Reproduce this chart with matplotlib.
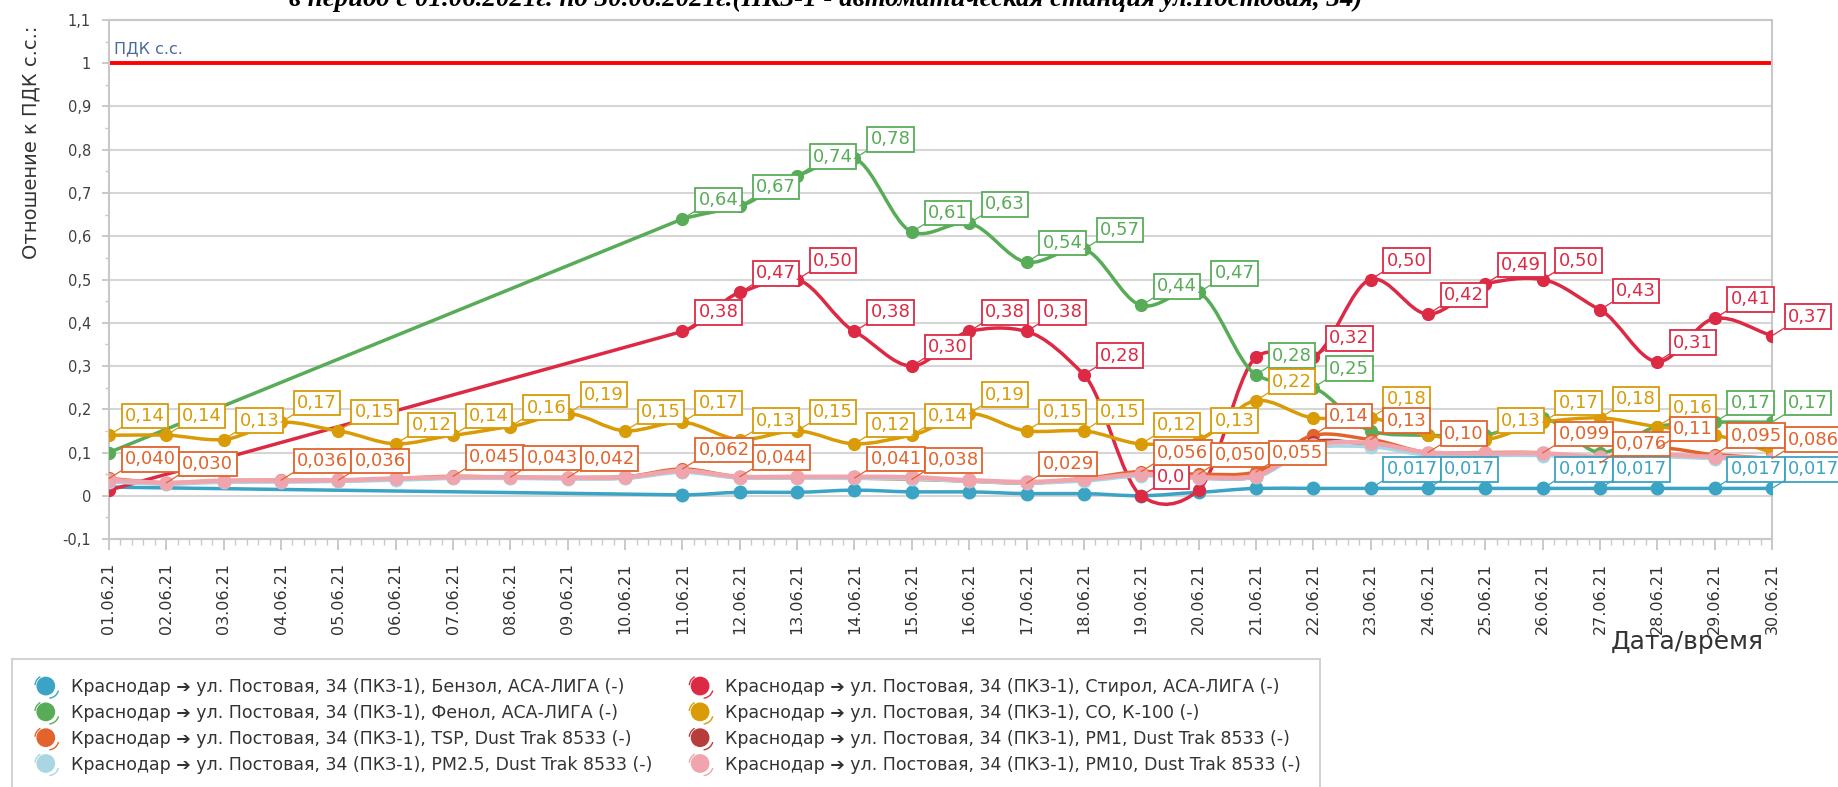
import numpy as np
import matplotlib
matplotlib.use("Agg")
import matplotlib.pyplot as plt
from matplotlib.path import Path
from matplotlib.patches import PathPatch, Circle, Arc
from matplotlib.lines import Line2D
from matplotlib.legend_handler import HandlerBase
from matplotlib.ticker import FixedLocator, FixedFormatter, AutoMinorLocator

nan = np.nan

# days of June 2021
days = list(range(1, 31))
date_labels = [f"{d:02d}.06.21" for d in days]

ytick_values = [-0.1, 0.0, 0.1, 0.2, 0.3, 0.4, 0.5, 0.6, 0.7, 0.8, 0.9, 1.0, 1.1]
ytick_labels = ["-0,1", "0", "0,1", "0,2", "0,3", "0,4", "0,5", "0,6", "0,7", "0,8", "0,9", "1", "1,1"]
pdk_level = 1.0

benzene = [0.020, nan, nan, nan, nan, nan, nan, nan, nan, nan,
           0.002, 0.008, 0.008, 0.013, 0.009, 0.009, 0.005, 0.005, 0.000, 0.008,
           0.017, 0.017, 0.017, 0.017, 0.017, 0.017, 0.017, 0.017, 0.017, 0.017]
styrene = [0.013, nan, nan, nan, nan, nan, nan, nan, nan, nan,
           0.38, 0.47, 0.50, 0.38, 0.30, 0.38, 0.38, 0.28, 0.00, 0.013,
           0.32, 0.32, 0.50, 0.42, 0.49, 0.50, 0.43, 0.31, 0.41, 0.37]
phenol = [0.10, nan, nan, nan, nan, nan, nan, nan, nan, nan,
          0.64, 0.67, 0.74, 0.78, 0.61, 0.63, 0.54, 0.57, 0.44, 0.47,
          0.28, 0.25, 0.15, 0.14, 0.14, 0.18, 0.10, 0.16, 0.17, 0.17]
co = [0.14, 0.14, 0.13, 0.17, 0.15, 0.12, 0.14, 0.16, 0.19, 0.15,
      0.17, 0.13, 0.15, 0.12, 0.14, 0.19, 0.15, 0.15, 0.12, 0.13,
      0.22, 0.18, 0.18, 0.14, 0.13, 0.17, 0.18, 0.16, 0.14, 0.10]
tsp = [0.040, 0.030, 0.035, 0.036, 0.036, 0.040, 0.045, 0.043, 0.042, 0.044,
       0.062, 0.044, 0.044, 0.041, 0.038, 0.034, 0.029, 0.040, 0.056, 0.050,
       0.055, 0.14, 0.13, 0.10, 0.10, 0.099, 0.076, 0.11, 0.095, 0.086]
pm1 = [0.034, 0.028, 0.033, 0.033, 0.034, 0.038, 0.041, 0.041, 0.040, 0.041,
       0.056, 0.042, 0.042, 0.042, 0.041, 0.034, 0.030, 0.036, 0.048, 0.041,
       0.044, 0.125, 0.118, 0.096, 0.095, 0.095, 0.087, 0.092, 0.088, 0.084]
pm25 = [0.032, 0.027, 0.031, 0.032, 0.033, 0.036, 0.040, 0.040, 0.039, 0.040,
        0.054, 0.041, 0.041, 0.040, 0.039, 0.033, 0.029, 0.034, 0.046, 0.040,
        0.043, 0.110, 0.113, 0.094, 0.093, 0.093, 0.085, 0.090, 0.086, 0.082]
pm10 = [0.037, 0.030, 0.035, 0.035, 0.036, 0.040, 0.043, 0.043, 0.042, 0.043,
        0.058, 0.044, 0.044, 0.044, 0.043, 0.036, 0.032, 0.038, 0.050, 0.043,
        0.046, 0.118, 0.122, 0.100, 0.098, 0.098, 0.090, 0.095, 0.090, 0.086]

# visible data labels (None = hidden)
N = None
benzene_lbl = [N] * 22 + ["0,017", "0,017", N, "0,017", "0,017", N, "0,017", "0,017"]
styrene_lbl = [N] * 10 + ["0,38", "0,47", "0,50", "0,38", "0,30", "0,38", "0,38", "0,28", "0,0", N,
                          N, "0,32", "0,50", "0,42", "0,49", "0,50", "0,43", "0,31", "0,41", "0,37"]
phenol_lbl = [N] * 10 + ["0,64", "0,67", "0,74", "0,78", "0,61", "0,63", "0,54", "0,57", "0,44", "0,47",
                         "0,28", "0,25", N, N, N, N, N, N, "0,17", "0,17"]
co_lbl = ["0,14", "0,14", "0,13", "0,17", "0,15", "0,12", "0,14", "0,16", "0,19", "0,15",
          "0,17", "0,13", "0,15", "0,12", "0,14", "0,19", "0,15", "0,15", "0,12", "0,13",
          "0,22", N, "0,18", N, "0,13", "0,17", "0,18", "0,16", N, N]
tsp_lbl = ["0,040", "0,030", N, "0,036", "0,036", N, "0,045", "0,043", "0,042", N,
           "0,062", "0,044", N, "0,041", "0,038", N, "0,029", N, "0,056", "0,050",
           "0,055", "0,14", "0,13", "0,10", N, "0,099", "0,076", "0,11", "0,095", "0,086"]
no_lbl = [N] * 30

prefix = "Краснодар ➔ ул. Постовая, 34 (ПКЗ-1), "
series = [
    # name, values, labels, colour, line width, marker size
    ("Бензол, АСА-ЛИГА (-)", benzene, benzene_lbl, "#3ba3c3", 2.5, 9.0),
    ("Стирол, АСА-ЛИГА (-)", styrene, styrene_lbl, "#dc2a45", 2.5, 8.5),
    ("Фенол, АСА-ЛИГА (-)", phenol, phenol_lbl, "#58ac58", 2.5, 8.5),
    ("CO, К-100 (-)", co, co_lbl, "#d99b06", 2.5, 8.5),
    ("TSP, Dust Trak 8533 (-)", tsp, tsp_lbl, "#e2632c", 2.5, 8.5),
    ("PM1, Dust Trak 8533 (-)", pm1, no_lbl, "#b83c3c", 2.5, 8.5),
    ("PM2.5, Dust Trak 8533 (-)", pm25, no_lbl, "#a9d6e3", 2.5, 9.0),
    ("PM10, Dust Trak 8533 (-)", pm10, no_lbl, "#f0a5ae", 3.2, 9.5),
]
legend_order = [0, 2, 4, 6, 1, 3, 5, 7]

narrow = ["Liberation Sans Narrow", "DejaVu Sans"]


def spline_path(xs, ys, k=0.7):
    # cardinal spline through the points, as cubic Bezier segments in data space;
    # segments spanning missing days are drawn straight
    xs = np.asarray(xs, float)
    ys = np.asarray(ys, float)
    n = len(xs)
    m = np.zeros(n)
    m[0] = (ys[1] - ys[0]) / (xs[1] - xs[0])
    m[-1] = (ys[-1] - ys[-2]) / (xs[-1] - xs[-2])
    m[1:-1] = k * (ys[2:] - ys[:-2]) / (xs[2:] - xs[:-2])
    verts = [(xs[0], ys[0])]
    codes = [Path.MOVETO]
    for i in range(n - 1):
        h = xs[i + 1] - xs[i]
        m0, m1 = m[i], m[i + 1]
        if h > 1.5:
            m0 = m1 = (ys[i + 1] - ys[i]) / h
        verts += [(xs[i] + h / 3, ys[i] + m0 * h / 3),
                  (xs[i + 1] - h / 3, ys[i + 1] - m1 * h / 3),
                  (xs[i + 1], ys[i + 1])]
        codes += [Path.CURVE4] * 3
    return Path(verts, codes)


class BallHandler(HandlerBase):
    # round legend icon with a thin curl, like the reference
    def create_artists(self, legend, orig_handle, xdescent, ydescent,
                       width, height, fontsize, trans):
        col = orig_handle.get_color()
        cx = width / 2 - xdescent
        cy = height / 2 - ydescent
        r = 0.5 * fontsize
        ball = Circle((cx, cy), r, fc=col, ec=col, transform=trans)
        curl1 = Arc((cx, cy), 2.5 * r, 2.5 * r, theta1=120, theta2=175, color=col,
                    lw=1.0, transform=trans)
        curl2 = Arc((cx + 0.3 * r, cy - 0.2 * r), 2.4 * r, 2.4 * r, theta1=275, theta2=345,
                    color=col, lw=1.0, transform=trans)
        return [curl1, curl2, ball]


fig = plt.figure(figsize=(18.38, 7.87), dpi=100)
ax = fig.add_axes([0.0593, 0.3151, 0.9641 - 0.0593, 0.9746 - 0.3151])
ax.set_axisbelow(True)

ax.set_xlim(1, 30)
ax.set_ylim(-0.1, 1.1)

ax.yaxis.set_major_locator(FixedLocator(ytick_values))
ax.yaxis.set_major_formatter(FixedFormatter(ytick_labels))
ax.yaxis.set_minor_locator(AutoMinorLocator(2))
ax.set_xticks(days)
ax.set_xticklabels(date_labels, rotation=90, family=narrow, fontsize=11.5, color="#333333")
ax.xaxis.set_minor_locator(AutoMinorLocator(5))
ax.tick_params(axis="y", which="major", length=5, width=1.2, color="#c0c0c0",
               labelsize=10.5, labelcolor="#404040", pad=8)
ax.tick_params(axis="y", which="minor", length=3, width=1.0, color="#c8c8c8")
ax.tick_params(axis="x", which="major", length=8, width=1.2, color="#c0c0c0", pad=9)
ax.tick_params(axis="x", which="minor", length=4, width=1.0, color="#c8c8c8")

ax.grid(axis="y", which="major", color="#d6d6d6", lw=1.5)
for side in ["left", "bottom", "top", "right"]:
    ax.spines[side].set_color("#c8c8c8")
    ax.spines[side].set_linewidth(1.5)

ax.axhline(pdk_level, color="#ff0000", lw=2.8, zorder=2.5)
ax.annotate("ПДК с.с.", xy=(1, pdk_level), xytext=(5, 7), textcoords="offset pixels",
            ha="left", va="bottom", fontsize=11.5, color="#4a6a9e")

for zi, (name, vals, lbls, col, lw, ms) in enumerate(series):
    v = np.asarray(vals, float)
    ok = ~np.isnan(v)
    x = np.asarray(days)[ok]
    y = v[ok]
    ax.add_patch(PathPatch(spline_path(x, y), fill=False, edgecolor=col, lw=lw,
                           zorder=3 + zi, capstyle="round", joinstyle="round"))
    ax.plot(x, y, "o", color=col, ms=ms, zorder=3 + zi)
    for d, val, t in zip(days, vals, lbls):
        if t is None:
            continue
        ax.annotate(t, xy=(d, val), xytext=(16, 10), textcoords="offset pixels",
                    ha="left", va="bottom", fontsize=13, color=col, zorder=20 + zi,
                    bbox=dict(boxstyle="square,pad=0.18", fc="white", ec=col, lw=1.3),
                    arrowprops=dict(arrowstyle="-", color=col, lw=0.9,
                                    shrinkA=0, shrinkB=0, relpos=(0, 0)),
                    annotation_clip=False)

fig.text(0.449, 0.993, "в период с 01.06.2021г. по 30.06.2021г.(ПКЗ-1 - автоматическая станция ул.Постовая, 34)",
         ha="center", va="baseline", fontsize=19.4, family="Liberation Serif",
         weight="bold", style="italic")
fig.text(0.0166, 0.8196, "Отношение к ПДК с.с.:", rotation=90, ha="center", va="center",
         fontsize=14, family=narrow, color="#333333")
fig.text(0.9597, 0.184, "Дата/время", ha="right", va="center", fontsize=18, color="#333333")

handles = [Line2D([], [], marker="o", ls="none", color=series[i][3]) for i in legend_order]
labels = [prefix + series[i][0] for i in legend_order]
leg = fig.legend(handles, labels, ncol=2, loc="upper left", bbox_to_anchor=(0.0065, 0.1626),
                 frameon=True, fancybox=False, edgecolor="#c8c8c8", fontsize=12.5,
                 borderpad=1.1, labelspacing=0.45, handlelength=1.7, handletextpad=0.6,
                 columnspacing=1.9, borderaxespad=0,
                 handler_map={Line2D: BallHandler()})
leg.get_frame().set_linewidth(1.5)
for t in leg.get_texts():
    t.set_color("#333333")

fig.savefig("out.png", dpi=100)
